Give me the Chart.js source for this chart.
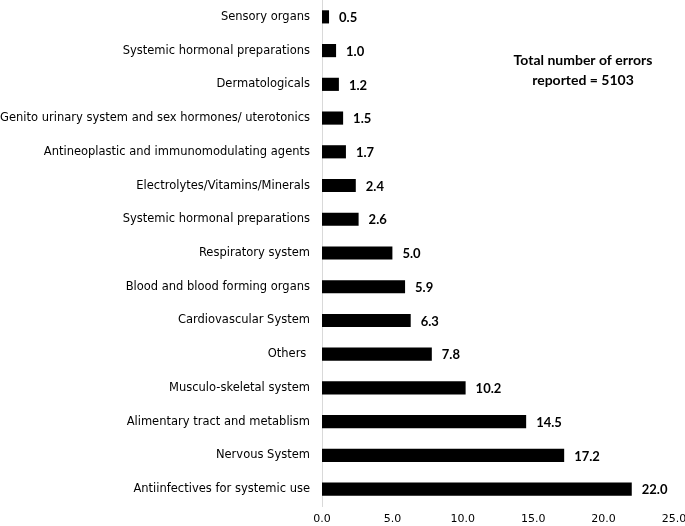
<!DOCTYPE html>
<html>
<head>
<meta charset="utf-8">
<script src="https://cdn.jsdelivr.net/npm/chart.js@4"></script>
<style>
  html, body { margin: 0; padding: 0; background: #fff; }
  #wrap { width: 685px; height: 526px; }
</style>
</head>
<body>
<div id="wrap"><canvas id="errors"></canvas></div>
<script>
var categories = ["Sensory organs", "Systemic hormonal preparations", "Dermatologicals",
  "Genito urinary system and sex hormones/ uterotonics", "Antineoplastic and immunomodulating agents",
  "Electrolytes/Vitamins/Minerals", "Systemic hormonal preparations", "Respiratory system",
  "Blood and blood forming organs", "Cardiovascular System", "Others ", "Musculo-skeletal system",
  "Alimentary tract and metablism", "Nervous System", "Antiinfectives for systemic use"];
var percentages = [0.5, 1.0, 1.2, 1.5, 1.7, 2.4, 2.6, 5.0, 5.9, 6.3, 7.8, 10.2, 14.5, 17.2, 22.0];
var xTicks = [0, 5, 10, 15, 20, 25];
var note = ["Total number of errors", "reported = 5103"];

// value labels next to each bar + the total note
const barLabels = {
  id: "barLabels",
  afterDatasetsDraw(chart) {
    const ctx = chart.ctx;
    const meta = chart.getDatasetMeta(0);
    ctx.save();
    ctx.fillStyle = "#000";
    ctx.font = "bold 13px Lato, sans-serif";
    ctx.textBaseline = "middle";
    ctx.textAlign = "left";
    meta.data.forEach(function (bar, i) {
      ctx.fillText(percentages[i].toFixed(1), bar.x + 10, bar.y + 1);
    });
    ctx.font = "bold 14px Lato, sans-serif";
    ctx.textAlign = "center";
    ctx.fillText(note[0], 583, 60);
    ctx.fillText(note[1], 583, 80);
    ctx.restore();
  }
};

new Chart("errors", {
  type: "bar",
  data: {
    labels: categories,
    datasets: [{
      data: percentages,
      backgroundColor: "#000",
      barPercentage: 0.6,
      categoryPercentage: 0.65
    }]
  },
  options: {
    indexAxis: "y",
    responsive: true,
    maintainAspectRatio: false,
    animation: false,
    layout: { padding: { top: 0, right: 11, bottom: 0, left: 0 } },
    plugins: { legend: { display: false }, tooltip: { enabled: false } },
    scales: {
      x: {
        min: 0, max: 25,
        afterBuildTicks: function (s) { s.ticks = xTicks.map(function (v) { return { value: v }; }); },
        afterFit: function (s) { s.height = 20; s.paddingRight = 0; s.paddingLeft = 0; },
        grid: { display: false, drawTicks: false },
        border: { display: false },
        ticks: {
          color: "#000",
          font: { family: "'DejaVu Sans', sans-serif", size: 11 },
          padding: 7,
          callback: function (v) { return Number(v).toFixed(1); }
        }
      },
      y: {
        grid: { display: false, drawTicks: false },
        border: { display: true, color: "#d9d9d9", width: 1 },
        afterFit: function (s) { s.width = 322; s.paddingTop = 0; s.paddingBottom = 0; },
        ticks: {
          color: "#000",
          font: { family: "'DejaVu Sans', sans-serif", size: 11.5 },
          padding: 12,
          autoSkip: false
        }
      }
    }
  },
  plugins: [barLabels]
});
</script>
</body>
</html>
